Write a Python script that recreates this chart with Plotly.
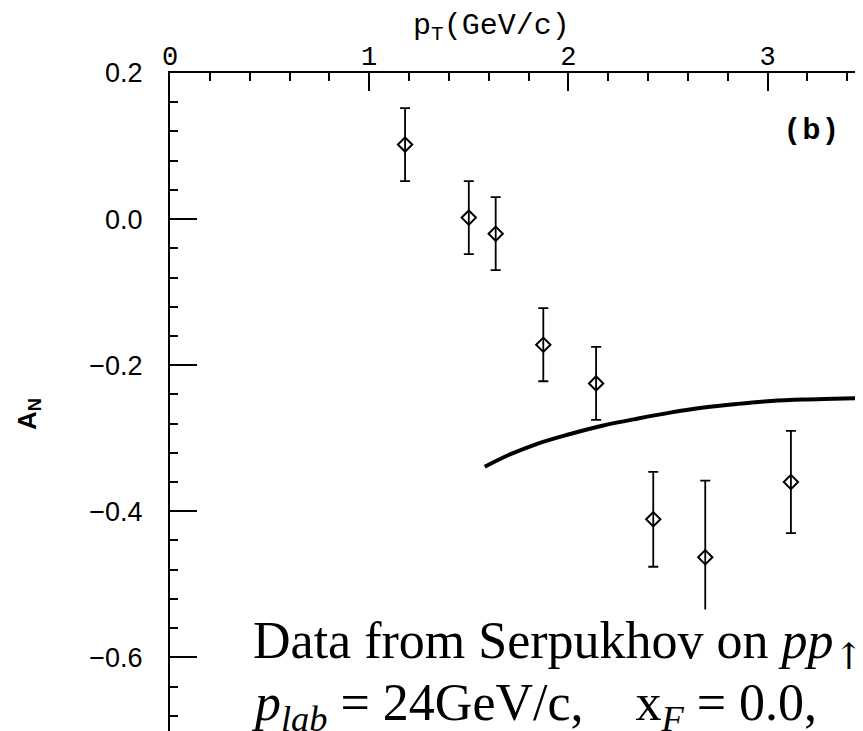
import plotly.graph_objects as go

# ---- data ----
pt_data = [1.18, 1.50, 1.635, 1.874, 2.139, 2.426, 2.687, 3.117]
an_data = [0.102, 0.002, -0.020, -0.172, -0.225, -0.411, -0.463, -0.360]
an_err = [0.050, 0.050, 0.050, 0.050, 0.050, 0.065, 0.105, 0.070]

pt_curve = [1.58, 1.70, 1.84, 2.00, 2.17, 2.35, 2.51, 2.68, 2.85, 3.02, 3.18, 3.33, 3.48]
an_curve = [-0.339, -0.323, -0.308, -0.295, -0.283, -0.273, -0.265, -0.258,
            -0.253, -0.249, -0.247, -0.246, -0.245]

x_ticks = [0, 1, 2, 3]
y_ticks = [0.2, 0.0, -0.2, -0.4, -0.6]
y_ticklabels = ["0.2", "0.0", "\u22120.2", "\u22120.4", "\u22120.6"]

# The page body has an 8px margin, so the figure is sized to fill the rest.
OFF = 8
W, H = 863 - OFF, 731 - OFF
ML, MT = 170 - OFF, 73 - OFF

fig = go.Figure()

fig.add_trace(go.Scatter(
    x=pt_curve, y=an_curve, mode="lines",
    line=dict(color="black", width=4, shape="spline", smoothing=1.0),
    showlegend=False, hoverinfo="skip"))

fig.add_trace(go.Scatter(
    x=pt_data, y=an_data, mode="markers",
    marker=dict(symbol="diamond-open", size=11, color="black",
                line=dict(width=2, color="black")),
    error_y=dict(type="data", array=an_err, visible=True,
                 color="black", thickness=1.8, width=5),
    showlegend=False))


def px2paper(px, py):
    fx, fy = px - OFF, py - OFF
    return (fx - ML) / (W - ML), (H - fy) / (H - MT)


annotations = []

# x-axis title
x_, y_ = px2paper(491, 28)
annotations.append(dict(
    x=x_, y=y_, xref="paper", yref="paper", showarrow=False,
    text="p<sub>T</sub>(GeV/c)", xanchor="center", yanchor="middle",
    font=dict(family="Liberation Mono", size=30, color="black")))

# y-axis title
x_, y_ = px2paper(28, 414)
annotations.append(dict(
    x=x_, y=y_, xref="paper", yref="paper", showarrow=False,
    text="<b>A<sub>N</sub></b>", textangle=-90,
    xanchor="center", yanchor="middle",
    font=dict(family="Liberation Sans", size=26, color="black")))

# panel label
x_, y_ = px2paper(811, 129)
annotations.append(dict(
    x=x_, y=y_, xref="paper", yref="paper", showarrow=False,
    text="<b>(\u2009b\u2009)</b>", xanchor="center", yanchor="middle",
    font=dict(family="Liberation Sans", size=29, color="black")))

# bottom text lines
x_, y_ = px2paper(250, 645)
annotations.append(dict(
    x=x_, y=y_, xref="paper", yref="paper", showarrow=False,
    text="Data from Serpukhov on <i>pp</i><sub><span style=\"font-family:'DejaVu Serif'\">\u2191</span></sub>",
    xanchor="left", yanchor="middle", bgcolor="white", borderpad=2,
    font=dict(family="Liberation Serif", size=52, color="black")))

x_, y_ = px2paper(250, 706)
annotations.append(dict(
    x=x_, y=y_, xref="paper", yref="paper", showarrow=False,
    text="<i>p</i><sub><i>lab</i></sub> = 24GeV/c,&nbsp;&nbsp;&nbsp; x<sub><i>F</i></sub> = 0.0,",
    xanchor="left", yanchor="middle", bgcolor="white", borderpad=0,
    font=dict(family="Liberation Serif", size=52, color="black")))

x_range = [0, (863 - 170) / 199.2]
y_top = 0.2
y_range = [y_top - (H - MT) / 730.4, y_top]

fig.update_layout(
    width=W, height=H,
    margin=dict(l=ML, r=0, t=MT, b=0, pad=0),
    paper_bgcolor="white", plot_bgcolor="white",
    annotations=annotations,
    xaxis=dict(
        side="top", range=x_range, showgrid=False, zeroline=False,
        showline=True, linecolor="black", linewidth=2, mirror=False,
        tickmode="array", tickvals=x_ticks, ticktext=[str(v) for v in x_ticks],
        ticks="inside", ticklen=18, tickwidth=1.8, tickcolor="black",
        ticklabelstandoff=-5,
        tickfont=dict(family="Liberation Mono", size=27, color="black"),
        minor=dict(dtick=0.2, tick0=0, ticks="inside", ticklen=8,
                   tickwidth=1.5, tickcolor="black", showgrid=False),
    ),
    yaxis=dict(
        range=y_range, showgrid=False, zeroline=False,
        showline=True, linecolor="black", linewidth=2, mirror=False,
        tickmode="array", tickvals=y_ticks, ticktext=y_ticklabels,
        ticks="inside", ticklen=27, tickwidth=1.8, tickcolor="black",
        ticklabelstandoff=20,
        tickfont=dict(family="Liberation Sans", size=27, color="black"),
        minor=dict(dtick=0.04, tick0=0, ticks="inside", ticklen=8,
                   tickwidth=1.5, tickcolor="black", showgrid=False),
    ),
)

fig.write_html("out.html")
